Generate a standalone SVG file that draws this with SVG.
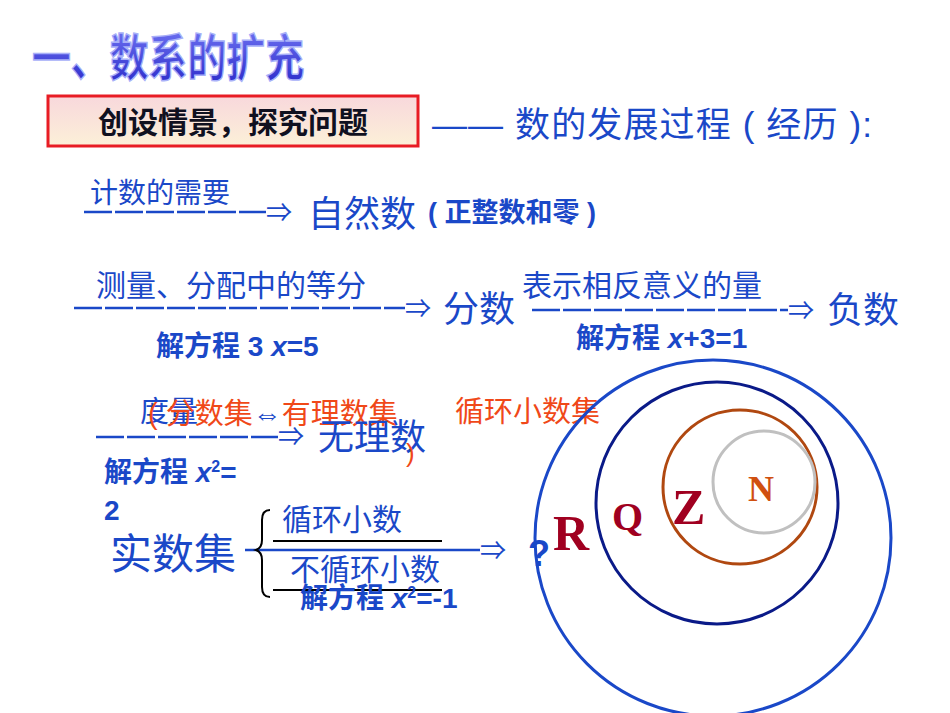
<svg xmlns="http://www.w3.org/2000/svg" width="950" height="713" viewBox="0 0 950 713">
<defs>
<linearGradient id="bx" x1="0" y1="0" x2="0" y2="1"><stop offset="0" stop-color="#f8d8dc"/><stop offset="1" stop-color="#fcf0d8"/></linearGradient>
<linearGradient id="tg" x1="0" y1="0" x2="0" y2="1"><stop offset="0" stop-color="#6a6ef0"/><stop offset="1" stop-color="#2a2ac8"/></linearGradient>
</defs>
<style>
text{font-family:"Liberation Sans","Noto Sans CJK SC",sans-serif;}
text.s{font-family:"Liberation Serif",serif;font-weight:bold;}
.b{fill:#1a48c8;}
.o{fill:#f04818;}
.ln{stroke:#1a48c8;stroke-width:2.5;fill:none;}
.k{stroke:#000;stroke-width:2;fill:none;}
.c{fill:none;stroke-width:3;}
</style>
<rect width="950" height="713" fill="#fff"/>
<g id="title"><text x="32" y="76" font-size="50" font-weight="bold" fill="url(#tg)" stroke="#a8b0f8" stroke-width="1.5" textLength="272" lengthAdjust="spacingAndGlyphs">一、数系的扩充</text></g>
<g id="box"><rect x="48" y="96" width="370" height="50" fill="url(#bx)" stroke="#e81c24" stroke-width="3"/>
<text x="233" y="133" font-size="30" font-weight="bold" text-anchor="middle" fill="#101020">创设情景，探究问题</text></g>
<g id="head"><text x="432" y="137" font-size="35" class="b" textLength="440">—— 数的发展过程 ( 经历 ):</text></g>
<g id="connectors">
<line class="ln" x1="84" y1="212" x2="266" y2="212" stroke-dasharray="28 3"/>
<line class="ln" x1="74" y1="308" x2="405" y2="308" stroke-dasharray="28 3"/>
<line class="ln" x1="532" y1="310" x2="788" y2="310" stroke-dasharray="28 3"/>
<line class="ln" x1="96" y1="437" x2="278" y2="437" stroke-dasharray="28 3"/>
<line class="ln" x1="245" y1="550" x2="480" y2="550"/>
<line class="k" x1="273" y1="541" x2="442" y2="541"/>
<line class="k" x1="273" y1="590" x2="442" y2="590"/>
<path class="k" d="M270,510 Q262,510 262,520 L262,540 Q262,548 256,550 Q262,552 262,560 L262,587 Q262,597 270,597"/>
</g>
<g id="t1"><text x="90" y="203" font-size="28" class="b">计数的需要</text>
<text x="266" y="222" font-size="26" class="b">⇒</text>
<text x="308" y="227" font-size="36" class="b">自然数</text>
<text x="428" y="222" font-size="27" font-weight="bold" class="b">( 正整数和零 )</text></g>
<g id="t2"><text x="96" y="296" font-size="30" class="b">测量、分配中的等分</text>
<text x="405" y="318" font-size="26" class="b">⇒</text>
<text x="443" y="322" font-size="36" class="b">分数</text>
<text x="156" y="356" font-size="28" font-weight="bold" class="b">解方程 3 <tspan font-style="italic">x</tspan>=5</text></g>
<g id="t3"><text x="522" y="296" font-size="30" class="b">表示相反意义的量</text>
<text x="788" y="320" font-size="26" class="b">⇒</text>
<text x="827" y="323" font-size="36" class="b">负数</text>
<text x="576" y="348" font-size="28" font-weight="bold" class="b">解方程 <tspan font-style="italic">x</tspan>+3=1</text></g>
<g id="t4"><text x="140" y="422" font-size="29" class="b">度量</text>
<text x="148" y="424" font-size="29" class="o">( 分数集<tspan fill="#1a48c8">⇔</tspan>有理数集</text>
<text x="455" y="422" font-size="29" class="o">循环小数集</text>
<text x="278" y="446" font-size="26" class="b">⇒</text>
<text x="318" y="450" font-size="36" class="b">无理数</text>
<text x="406" y="462" font-size="26" class="o">)</text>
<text x="104" y="482" font-size="28" font-weight="bold" class="b">解方程 <tspan font-style="italic">x</tspan><tspan font-size="16" dy="-10">2</tspan><tspan dy="10">=</tspan></text>
<text x="104" y="520" font-size="28" font-weight="bold" class="b">2</text></g>
<g id="t5"><text x="110" y="569" font-size="42" class="b">实数集</text>
<text x="282" y="530" font-size="30" class="b">循环小数</text>
<text x="290" y="580" font-size="30" class="b">不循环小数</text>
<text x="300" y="608" font-size="28" font-weight="bold" class="b">解方程 <tspan font-style="italic">x</tspan><tspan font-size="16" dy="-10">2</tspan><tspan dy="10">=-1</tspan></text>
<text x="480" y="560" font-size="26" class="b">⇒</text>
<text x="528" y="566" font-size="36" font-weight="bold" class="b">?</text></g>
<g id="circles">
<circle class="c" cx="713" cy="538" r="178" stroke="#1a48c8"/>
<circle class="c" cx="717" cy="503" r="121" stroke="#0a1a88"/>
<circle class="c" cx="740" cy="487" r="77" stroke="#b04810"/>
<circle class="c" cx="764" cy="482" r="51" stroke="#c0c0c0"/>
<text class="s" x="553" y="550" font-size="50" fill="#a00020">R</text>
<text class="s" x="612" y="530" font-size="40" fill="#a00020">Q</text>
<text class="s" x="672" y="524" font-size="50" fill="#a00020">Z</text>
<text class="s" x="748" y="501" font-size="36" fill="#d05010">N</text>
</g>
</svg>
